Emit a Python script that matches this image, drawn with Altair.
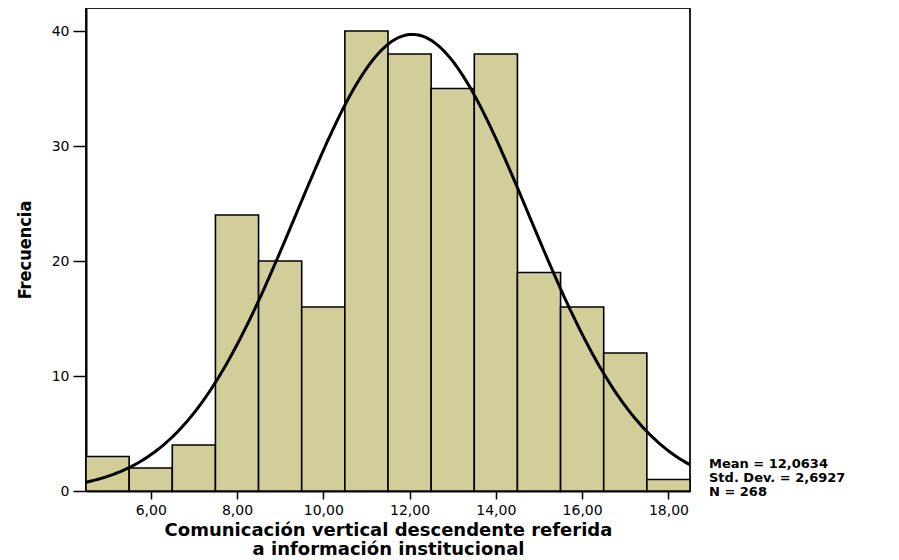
import altair as alt
import pandas as pd

# Histogram data (bin centres, width 1)
bin_centers = [5, 6, 7, 8, 9, 10, 11, 12, 13, 14, 15, 16, 17, 18]
counts = [3, 2, 4, 24, 20, 16, 40, 38, 35, 38, 19, 16, 12, 1]

# Summary statistics shown in the chart
MEAN = 12.0634
SD = 2.6927
N = 268
BIN_WIDTH = 1.0

x_ticks = [6, 8, 10, 12, 14, 16, 18]
y_ticks = [0, 10, 20, 30, 40]

x_title = ["Comunicación vertical descendente referida", "a información institucional"]
y_title = "Frecuencia"

stats_text = "\n".join([
    "Mean = " + f"{MEAN:.4f}".replace(".", ","),
    "Std. Dev. = " + f"{SD:.4f}".replace(".", ","),
    f"N = {N}",
])

df = pd.DataFrame({"center": bin_centers, "count": counts})

x_scale = alt.Scale(domain=[4.5, 18.5], nice=False, zero=False)
y_scale = alt.Scale(domain=[0, 42], nice=False)

label_expr = "replace(format(datum.value, '.2f'), '.', ',')"

bars = alt.Chart(df).transform_calculate(
    x0="datum.center - 0.5", x1="datum.center + 0.5"
).mark_rect(fill="#d3ce99", stroke="black", strokeWidth=1.6).encode(
    x=alt.X("x0:Q", scale=x_scale, title=x_title,
            axis=alt.Axis(values=x_ticks, labelExpr=label_expr, tickSize=8,
                          labelPadding=4, titlePadding=4, grid=False,
                          titleFont="DejaVu Sans", titleFontSize=18,
                          titleFontWeight="bold", titleLineHeight=19,
                          titleColor="black")),
    x2="x1:Q",
    y=alt.Y("count:Q", scale=y_scale, title=y_title,
            axis=alt.Axis(values=y_ticks, tickSize=13, labelPadding=4,
                          titlePadding=17, grid=False,
                          titleFont="DejaVu Sans Condensed, Liberation Sans Narrow, Arial Narrow, sans-serif",
                          titleFontSize=18,
                          titleFontWeight="bold", titleColor="black")),
    y2=alt.datum(0),
)

curve = alt.Chart(alt.sequence(4.5, 18.52, 0.05, as_="x")).transform_calculate(
    y=f"{N} * {BIN_WIDTH} * exp(-0.5 * pow((datum.x - {MEAN}) / {SD}, 2)) / ({SD} * sqrt(2 * PI))"
).mark_line(color="black", strokeWidth=3, clip=True).encode(
    x=alt.X("x:Q", scale=x_scale),
    y=alt.Y("y:Q", scale=y_scale),
)

stats = alt.Chart(pd.DataFrame({"t": [stats_text]})).mark_text(
    align="left", baseline="alphabetic", lineBreak="\n", lineHeight=14,
    font="DejaVu Sans", fontSize=13, fontWeight="bold", color="black",
).encode(
    x=alt.value(623), y=alt.value(460), text="t:N"
)

chart = alt.layer(bars, curve, stats).properties(
    width=604, height=483,
    padding={"left": 78, "top": 0, "right": 190, "bottom": 67},
    autosize=alt.AutoSizeParams(type="none"),
).configure_view(
    stroke="#222", strokeWidth=2
).configure_axis(
    domainColor="black", domainWidth=2, tickColor="black", tickWidth=1.5,
    labelFont="DejaVu Sans", labelFontSize=14, labelColor="black",
)

chart.save("out.html", embed_options={"renderer": "svg", "actions": False})
